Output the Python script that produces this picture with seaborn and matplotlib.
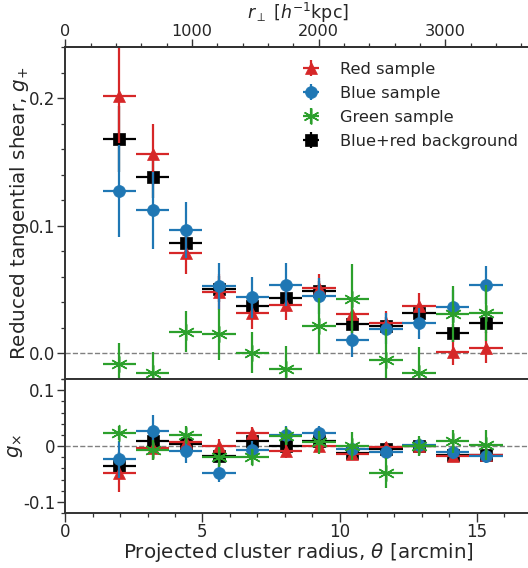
import numpy as np
import pandas as pd
import matplotlib
matplotlib.use("Agg")
import matplotlib.pyplot as plt
import seaborn as sns
from matplotlib.lines import Line2D
from matplotlib.ticker import MultipleLocator
from matplotlib.legend_handler import HandlerTuple

# ---------------- data ----------------
theta = [1.97, 3.18, 4.39, 5.60, 6.82, 8.03, 9.25, 10.47, 11.69, 12.90, 14.12, 15.34]
theta_halfwidth = [0.607] * 12

red_gp = [0.202, 0.156, 0.079, 0.048, 0.032, 0.038, 0.051, 0.031, 0.024, 0.037, 0.001, 0.0045]
red_gp_err = [0.037, 0.024, 0.017, 0.014, 0.013, 0.012, 0.011, 0.012, 0.009, 0.010, 0.010, 0.012]
blue_gp = [0.127, 0.112, 0.097, 0.053, 0.044, 0.054, 0.045, 0.0105, 0.0194, 0.0236, 0.0365, 0.0535]
blue_gp_err = [0.036, 0.030, 0.022, 0.018, 0.016, 0.017, 0.014, 0.013, 0.012, 0.012, 0.013, 0.015]
green_gp = [-0.008, -0.015, 0.017, 0.015, 0.0005, -0.012, 0.0215, 0.043, -0.005, -0.015, 0.031, 0.032]
green_gp_err = [0.016, 0.016, 0.016, 0.020, 0.016, 0.018, 0.022, 0.027, 0.024, 0.020, 0.022, 0.022]
black_gp = [0.168, 0.138, 0.0866, 0.0504, 0.0368, 0.0436, 0.049, 0.0234, 0.0215, 0.032, 0.0163, 0.0239]
black_gp_err = [0.026, 0.016, 0.012, 0.010, 0.009, 0.009, 0.008, 0.008, 0.007, 0.007, 0.007, 0.008]

red_gx = [-0.049, -0.0036, 0.0065, -0.0007, 0.0234, -0.0097, 0.0005, -0.014, -0.002, 0.0005, -0.0175, -0.016]
red_gx_err = [0.033, 0.022, 0.015, 0.013, 0.011, 0.011, 0.010, 0.011, 0.009, 0.009, 0.009, 0.011]
blue_gx = [-0.0235, 0.0276, -0.0085, -0.0487, -0.0067, 0.0204, 0.0234, -0.0055, -0.0103, 0.0023, -0.0115, -0.0175]
blue_gx_err = [0.033, 0.028, 0.022, 0.016, 0.015, 0.015, 0.013, 0.012, 0.011, 0.011, 0.012, 0.013]
green_gx = [0.0235, -0.0067, 0.0204, -0.0198, -0.0198, 0.0173, 0.0065, 0.0005, -0.0487, 0.0005, 0.0083, 0.0023]
green_gx_err = [0.012, 0.018, 0.015, 0.018, 0.015, 0.016, 0.020, 0.025, 0.027, 0.018, 0.020, 0.027]
black_gx = [-0.0355, 0.0083, 0.0036, -0.0187, 0.0083, 0.0005, 0.0095, -0.012, -0.0055, 0.0005, -0.0157, -0.016]
black_gx_err = [0.024, 0.016, 0.011, 0.010, 0.009, 0.009, 0.008, 0.008, 0.007, 0.007, 0.007, 0.008]

labels = ["Red sample", "Blue sample", "Green sample", "Blue+red background"]
kpc_per_arcmin = 216.5

# ---------------- style ----------------
sns.set_style("ticks")
plt.rcParams["font.family"] = ["DejaVu Sans"]
plt.rcParams["mathtext.fontset"] = "dejavusans"

pal = sns.color_palette("tab10")
colors = {"Red sample": pal[3], "Blue sample": pal[0], "Green sample": pal[2], "Blue+red background": "black"}
markers = {"Red sample": "^", "Blue sample": "o", "Green sample": (6, 2, 0), "Blue+red background": "s"}
zorders = {"Red sample": 3, "Blue sample": 4, "Green sample": 5, "Blue+red background": 2}

upper = {"Red sample": (red_gp, red_gp_err), "Blue sample": (blue_gp, blue_gp_err),
         "Green sample": (green_gp, green_gp_err), "Blue+red background": (black_gp, black_gp_err)}
lower = {"Red sample": (red_gx, red_gx_err), "Blue sample": (blue_gx, blue_gx_err),
         "Green sample": (green_gx, green_gx_err), "Blue+red background": (black_gx, black_gx_err)}

W_px, H_px = 528, 568
fig = plt.figure(figsize=(W_px / 100, H_px / 100), dpi=100)
x0 = 65.3
px_per_unit = 27.43
xmax = 17.0
axw_px = xmax * px_per_unit
left = x0 / W_px
width = axw_px / W_px
ax1 = fig.add_axes([left, 1 - 379 / H_px, width, (379 - 47) / H_px])
ax2 = fig.add_axes([left, 1 - 513 / H_px, width, (513 - 379) / H_px], sharex=ax1)

handles = {}
for ax, dataset in ((ax1, upper), (ax2, lower)):
    ax.axhline(0, color="gray", ls="--", lw=1.0, zorder=1)
    for lab in ["Blue+red background", "Red sample", "Blue sample", "Green sample"]:
        y, e = dataset[lab]
        c = colors[lab]
        z = zorders[lab]
        eb = ax.errorbar(theta, y, xerr=theta_halfwidth, yerr=e, fmt="none",
                         ecolor=c, elinewidth=1.6, capsize=0, zorder=z)
        df = pd.DataFrame({"theta": theta, "g": y})
        if lab == "Green sample":
            sns.scatterplot(data=df, x="theta", y="g", ax=ax, marker=markers[lab],
                            s=130, color=c, linewidth=1.1, legend=False, zorder=z + 0.1)
        else:
            sns.scatterplot(data=df, x="theta", y="g", ax=ax, marker=markers[lab],
                            s=74, color=c, edgecolor=c, linewidth=0.5, legend=False,
                            zorder=z + 0.1)
        if ax is ax1:
            mk = Line2D([], [], ls="", marker=markers[lab], color=c,
                        ms=11.4 if lab == "Green sample" else 8.6,
                        mew=1.1 if lab == "Green sample" else 0.5)
            handles[lab] = (eb, mk)

ax1.set_xlim(0, xmax)
ax1.set_ylim(-0.02, 0.24)
ax2.set_ylim(-0.12, 0.12)

spine_c = "0.2"
for ax in (ax1, ax2):
    for s in ax.spines.values():
        s.set_linewidth(1.4)
        s.set_color(spine_c)
    ax.spines["right"].set_visible(False)
    ax.tick_params(which="major", length=5.5, width=1.0, color=spine_c, labelsize=12,
                   direction="out", pad=1.5)
    ax.tick_params(which="minor", length=3.0, width=0.9, color=spine_c, direction="out")
    ax.tick_params(axis="x", which="major", length=6.3, pad=0.8)

ax1.tick_params(axis="x", which="both", bottom=False, labelbottom=False, top=False)
ax1.set_yticks([0.0, 0.1, 0.2])
ax1.set_yticklabels(["0.0", "0.1", "0.2"])
ax1.yaxis.set_minor_locator(MultipleLocator(0.02))
ax1.set_ylabel(r"Reduced tangential shear, $g_{+}$", fontsize=14.3)
ax1.yaxis.set_label_coords(-(x0 - 31) / axw_px, 0.5)

ax2.set_xticks([0, 5, 10, 15])
ax2.xaxis.set_minor_locator(MultipleLocator(1))
ax2.set_yticks([-0.1, 0.0, 0.1])
ax2.set_yticklabels(["-0.1", "0", "0.1"])
ax2.yaxis.set_minor_locator(MultipleLocator(0.02))
ax2.tick_params(axis="x", which="both", top=False)
ax2.set_ylabel(r"$g_{\times}$", fontsize=14.3)
ax2.yaxis.set_label_coords(-(x0 - 25) / axw_px, 0.5)
ax2.set_xlabel(r"Projected cluster radius, $\theta$ [arcmin]", fontsize=14.3, labelpad=0)

sec = ax1.secondary_xaxis("top", functions=(lambda t: t * kpc_per_arcmin,
                                            lambda r: r / kpc_per_arcmin))
sec.set_xticks([0, 1000, 2000, 3000])
sec.xaxis.set_minor_locator(MultipleLocator(200))
sec.tick_params(which="major", length=5.6, width=1.0, color=spine_c, labelsize=11.6,
                direction="out", pad=0.3)
sec.tick_params(which="minor", length=3.0, width=0.9, color=spine_c, direction="out")
sec.spines["top"].set_linewidth(1.4)
sec.spines["top"].set_color(spine_c)
sec.set_xlabel(r"$r_{\perp}$ [$h^{-1}$kpc]", fontsize=12.5, labelpad=3.5)

leg = ax1.legend([handles[l] for l in labels], labels,
                 handler_map={tuple: HandlerTuple(ndivide=1)},
                 loc="upper left", bbox_to_anchor=((302 - x0) / axw_px, 0.955),
                 frameon=False, fontsize=11.7, handlelength=1.1, handletextpad=1.25,
                 labelspacing=0.55, borderpad=0, borderaxespad=0)

fig.savefig("out.png", dpi=100)
